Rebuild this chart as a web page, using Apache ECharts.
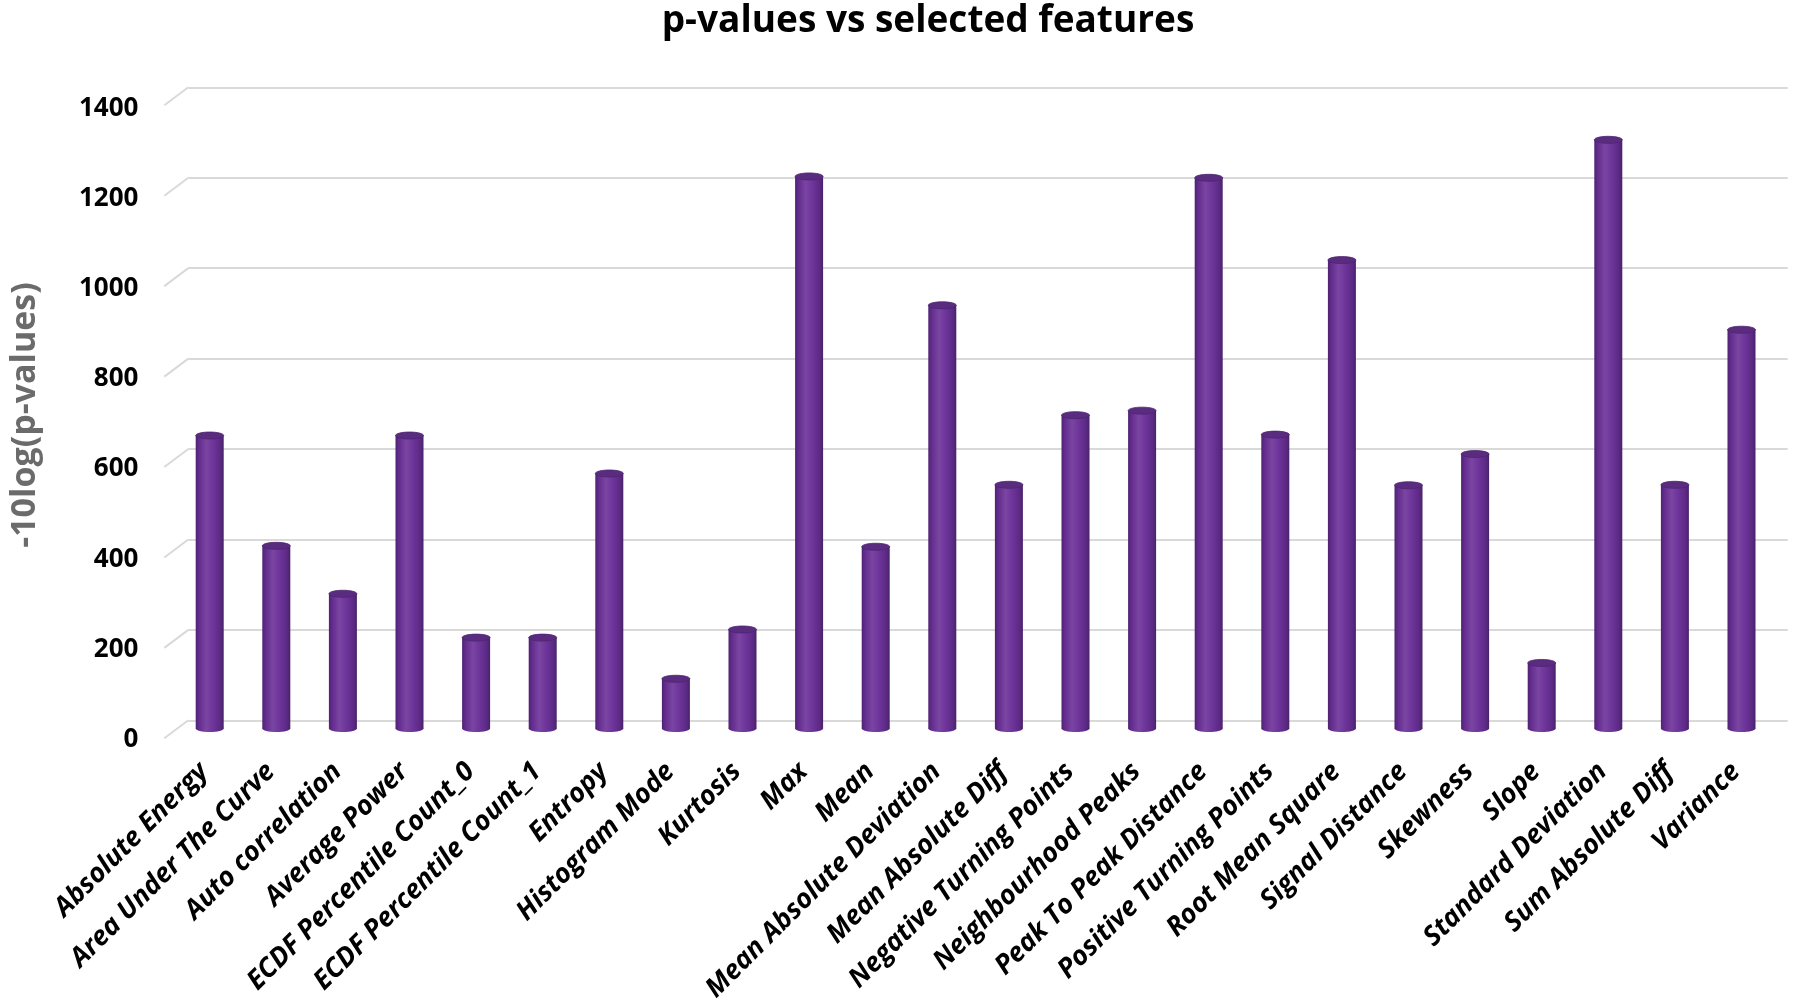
<!DOCTYPE html>
<html>
<head>
<meta charset="utf-8">
<script src="https://cdn.jsdelivr.net/npm/echarts@6/dist/echarts.min.js"></script>
<style>
html,body{margin:0;padding:0;background:#fff;}
#chart{width:1798px;height:1005px;}
</style>
</head>
<body>
<div id="chart"></div>
<script>
const categories = [
  "Absolute Energy","Area Under The Curve","Auto correlation","Average Power",
  "ECDF Percentile Count_0","ECDF Percentile Count_1","Entropy","Histogram Mode",
  "Kurtosis","Max","Mean","Mean Absolute Deviation","Mean Absolute Diff",
  "Negative Turning Points","Neighbourhood Peaks","Peak To Peak Distance",
  "Positive Turning Points","Root Mean Square","Signal Distance","Skewness",
  "Slope","Standard Deviation","Sum Absolute Diff","Variance"
];
const pValues = [
  648, 404, 298, 648, 201, 201, 564, 110, 219, 1221, 402, 936, 539,
  693, 703, 1218, 650, 1036, 538, 607, 145, 1302, 539, 882
];
const yTicks = [0, 200, 400, 600, 800, 1000, 1200, 1400];

const FONT = '"Open Sans", Lato, sans-serif';
const chart = echarts.init(document.getElementById('chart'), null, {renderer: 'canvas'});

const bodyGrad = new echarts.graphic.LinearGradient(0, 0, 1, 0, [
  {offset: 0, color: '#4e2270'},
  {offset: 0.12, color: '#632c8e'},
  {offset: 0.38, color: '#7a45a2'},
  {offset: 0.62, color: '#6e349b'},
  {offset: 0.88, color: '#5b2a84'},
  {offset: 1, color: '#4a2168'}
]);

function cylinder(params, api) {
  const i = api.value(0), v = api.value(1);
  const top = api.coord([i, v]);
  const bot = api.coord([i, 0]);
  const rx = 14, ry = 3.5;
  return {
    type: 'group',
    children: [
      {type: 'rect', shape: {x: top[0] - rx, y: top[1], width: rx * 2, height: bot[1] - top[1]},
       style: {fill: bodyGrad}},
      {type: 'ellipse', shape: {cx: bot[0], cy: bot[1], rx: rx, ry: ry}, style: {fill: bodyGrad}},
      {type: 'ellipse', shape: {cx: top[0], cy: top[1], rx: rx, ry: ry},
       style: {fill: '#5a2c80', stroke: '#4e2470', lineWidth: 0.8}}
    ]
  };
}

function slant(params, api) {
  const p = api.coord([0, api.value(1)]);
  const x0 = params.coordSys.x;
  return {
    type: 'line',
    shape: {x1: x0, y1: p[1], x2: x0 - 24, y2: p[1] + 18},
    style: {stroke: '#d9d9d9', lineWidth: 2}
  };
}

const option = {
  animation: false,
  backgroundColor: '#ffffff',
  title: {
    text: 'p-values vs selected features',
    left: 923, top: -2, textAlign: 'center',
    textStyle: {fontFamily: FONT, fontWeight: 'bold', fontSize: 37, color: '#000'}
  },
  grid: [
    {left: 188.3, right: 10.3, top: 87.3, bottom: 284.7},
    {left: 176.4, right: 23.2, top: 95.5, bottom: 276.5},
    {left: 176.4, right: 23.2, top: 108.3, bottom: 264.2}
  ],
  xAxis: [
    {type: 'category', gridIndex: 0, data: categories, show: false},
    {type: 'category', gridIndex: 1, data: categories, show: false},
    {type: 'category', gridIndex: 2, data: categories,
     axisLine: {show: false}, axisTick: {show: false}, splitLine: {show: false},
     axisLabel: {interval: 0, rotate: 45, margin: 22, color: '#000', padding: [0, 8, 0, 0],
       fontFamily: FONT, fontWeight: 'bold', fontStyle: 'italic', fontSize: 27}}
  ],
  yAxis: [
    {type: 'value', gridIndex: 0, min: 0, max: 1400, interval: 200,
     axisLine: {show: false}, axisTick: {show: false}, axisLabel: {show: false},
     splitLine: {show: true, lineStyle: {color: '#d9d9d9', width: 2}}},
    {type: 'value', gridIndex: 1, min: 0, max: 1400, interval: 200, show: false,
     splitLine: {show: false}},
    {type: 'value', gridIndex: 2, min: 0, max: 1400, interval: 200,
     axisLine: {show: false}, axisTick: {show: false}, splitLine: {show: false},
     axisLabel: {margin: 38, color: '#000', fontFamily: FONT, fontWeight: 'bold', fontSize: 26,
       formatter: v => String(v)},
     name: '-10log(p-values)', nameLocation: 'middle', nameGap: 134,
     nameTextStyle: {fontFamily: FONT, fontWeight: 'bold', fontSize: 34, color: '#6b6b6b',
       padding: [0, 0, 0, 18]}}
  ],
  series: [
    {type: 'custom', xAxisIndex: 0, yAxisIndex: 0, renderItem: slant,
     data: yTicks.map(v => [0, v]), z: 1, silent: true},
    {type: 'custom', xAxisIndex: 1, yAxisIndex: 1, renderItem: cylinder,
     data: pValues.map((v, i) => [i, v]), z: 5}
  ]
};
chart.setOption(option);
</script>
</body>
</html>
